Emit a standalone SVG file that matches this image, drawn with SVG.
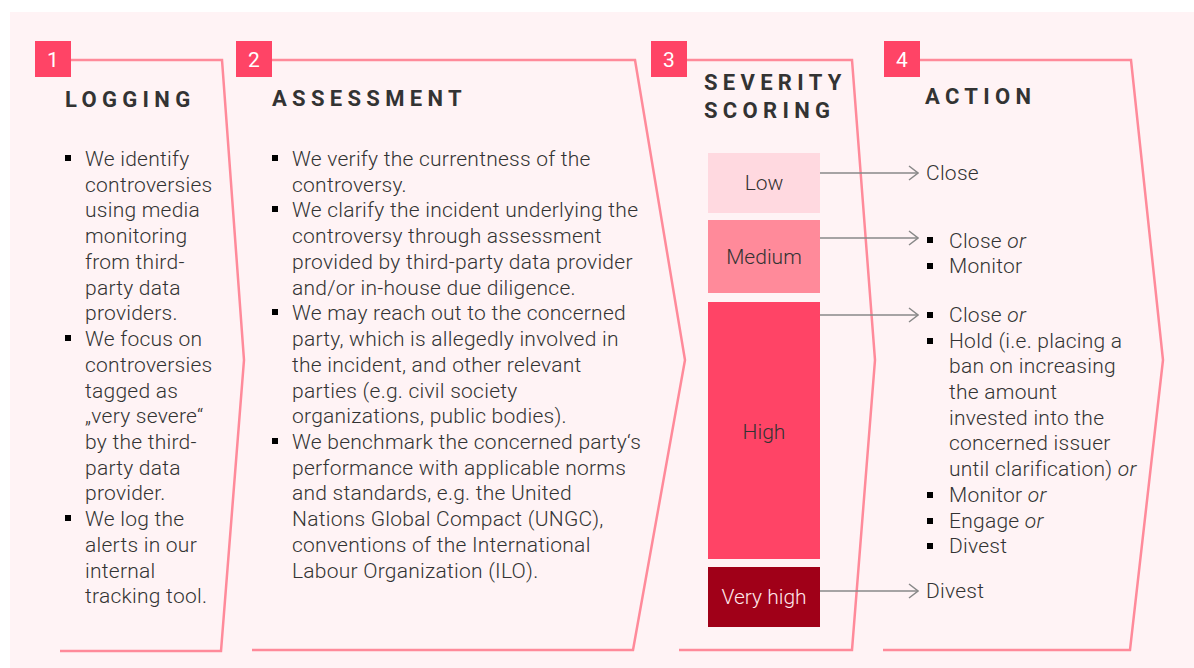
<svg xmlns="http://www.w3.org/2000/svg" width="1194" height="668" viewBox="0 0 1194 668">
<defs>
<style>
.bg{fill:#FFF3F5}
.frame{fill:none;stroke:#FF8A9A;stroke-width:2.5;stroke-linejoin:miter}
.num{fill:#FF4466}
.numt{fill:#ffffff;font-family:Roboto,"Liberation Sans",sans-serif;font-size:21px;text-anchor:middle}
.title{fill:#333333;font-family:Roboto,"Liberation Sans",sans-serif;font-size:22px;font-weight:bold;letter-spacing:5.3px}
.body{fill:#333333;font-family:Roboto,"Liberation Sans",sans-serif;font-size:21px;font-weight:300;letter-spacing:0.25px}
.bul{fill:#000000}
.lbl{font-family:Roboto,"Liberation Sans",sans-serif;font-size:21px;font-weight:300;text-anchor:middle}
.conn{fill:none;stroke:#888888;stroke-width:1.5}
</style>
<marker id="arr" markerWidth="12" markerHeight="16" refX="11" refY="8" orient="auto" markerUnits="userSpaceOnUse">
<path d="M2,1 L11,8 L2,15" fill="none" stroke="#888888" stroke-width="1.5"/>
</marker>
</defs>
<rect class="bg" x="10" y="12" width="1184" height="656"/>

<g id="step1">
<polyline class="frame" points="71,60 222,60 244,360 221,651 60,651"/>
<rect class="num" x="35" y="41" width="36" height="36"/>
<text class="numt" x="53" y="67">1</text>
<text class="title" x="65" y="107">LOGGING</text>
<g class="bul">
<rect x="65" y="155" width="6" height="6"/>
<rect x="65" y="335" width="6" height="6"/>
<rect x="65" y="515" width="6" height="6"/>
</g>
<text class="body">
<tspan x="85" y="166">We identify</tspan>
<tspan x="85" y="192">controversies</tspan>
<tspan x="85" y="217">using media</tspan>
<tspan x="85" y="243">monitoring</tspan>
<tspan x="85" y="269">from third-</tspan>
<tspan x="85" y="295">party data</tspan>
<tspan x="85" y="320">providers.</tspan>
<tspan x="85" y="346">We focus on</tspan>
<tspan x="85" y="372">controversies</tspan>
<tspan x="85" y="398">tagged as</tspan>
<tspan x="85" y="423">„very severe“</tspan>
<tspan x="85" y="449">by the third-</tspan>
<tspan x="85" y="475">party data</tspan>
<tspan x="85" y="500">provider.</tspan>
<tspan x="85" y="526">We log the</tspan>
<tspan x="85" y="552">alerts in our</tspan>
<tspan x="85" y="578">internal</tspan>
<tspan x="85" y="603">tracking tool.</tspan>
</text>
</g>

<g id="step2">
<polyline class="frame" points="272,60 635,60 685,360 633,650 252,650"/>
<rect class="num" x="236" y="41" width="36" height="36"/>
<text class="numt" x="254" y="67">2</text>
<text class="title" x="272" y="106">ASSESSMENT</text>
<g class="bul">
<rect x="272" y="155" width="6" height="6"/>
<rect x="272" y="206" width="6" height="6"/>
<rect x="272" y="309" width="6" height="6"/>
<rect x="272" y="438" width="6" height="6"/>
</g>
<text class="body">
<tspan x="292" y="166">We verify the currentness of the</tspan>
<tspan x="292" y="192">controversy.</tspan>
<tspan x="292" y="217">We clarify the incident underlying the</tspan>
<tspan x="292" y="243">controversy through assessment</tspan>
<tspan x="292" y="269">provided by third-party data provider</tspan>
<tspan x="292" y="295">and/or in-house due diligence.</tspan>
<tspan x="292" y="320">We may reach out to the concerned</tspan>
<tspan x="292" y="346">party, which is allegedly involved in</tspan>
<tspan x="292" y="372">the incident, and other relevant</tspan>
<tspan x="292" y="398">parties (e.g. civil society</tspan>
<tspan x="292" y="423">organizations, public bodies).</tspan>
<tspan x="292" y="449">We benchmark the concerned party‘s</tspan>
<tspan x="292" y="475">performance with applicable norms</tspan>
<tspan x="292" y="500">and standards, e.g. the United</tspan>
<tspan x="292" y="526">Nations Global Compact (UNGC),</tspan>
<tspan x="292" y="552">conventions of the International</tspan>
<tspan x="292" y="578">Labour Organization (ILO).</tspan>
</text>
</g>

<g id="step3">
<polyline class="frame" points="687,60 852,60 875,360 852,650 679,650"/>
<rect class="num" x="651" y="41" width="36" height="36"/>
<text class="numt" x="669" y="67">3</text>
<text class="title"><tspan x="704" y="90">SEVERITY</tspan><tspan x="704" y="118">SCORING</tspan></text>
</g>

<g id="low">
<rect x="708" y="153" width="112" height="60" fill="#FFD9E0"/>
<text class="lbl" x="764" y="190" fill="#333333">Low</text>
</g>
<g id="medium">
<rect x="708" y="220" width="112" height="73" fill="#FF8A9A"/>
<text class="lbl" x="764" y="264" fill="#333333">Medium</text>
</g>
<g id="high">
<rect x="708" y="302" width="112" height="257" fill="#FF4466"/>
<text class="lbl" x="764" y="439" fill="#333333">High</text>
</g>
<g id="veryhigh">
<rect x="708" y="567" width="112" height="60" fill="#A00018"/>
<text class="lbl" x="764" y="604" fill="#FFE6EA">Very high</text>
</g>

<g id="step4">
<polyline class="frame" points="920,60 1131,60 1163,360 1130,650 883,650"/>
<rect class="num" x="884" y="41" width="36" height="36"/>
<text class="numt" x="902" y="67">4</text>
<text class="title" x="925" y="104">ACTION</text>
</g>

<g id="actions">
<g class="bul">
<rect x="927" y="237" width="6" height="6"/>
<rect x="927" y="263" width="6" height="6"/>
<rect x="927" y="312" width="6" height="6"/>
<rect x="927" y="338" width="6" height="6"/>
<rect x="927" y="492" width="6" height="6"/>
<rect x="927" y="518" width="6" height="6"/>
<rect x="927" y="543" width="6" height="6"/>
</g>
<text class="body">
<tspan x="926" y="180">Close</tspan>
<tspan x="949" y="248">Close <tspan font-style="italic">or</tspan></tspan>
<tspan x="949" y="273">Monitor</tspan>
<tspan x="949" y="322">Close <tspan font-style="italic">or</tspan></tspan>
<tspan x="949" y="348">Hold (i.e. placing a</tspan>
<tspan x="949" y="373">ban on increasing</tspan>
<tspan x="949" y="399">the amount</tspan>
<tspan x="949" y="425">invested into the</tspan>
<tspan x="949" y="450">concerned issuer</tspan>
<tspan x="949" y="476">until clarification) <tspan font-style="italic">or</tspan></tspan>
<tspan x="949" y="502">Monitor <tspan font-style="italic">or</tspan></tspan>
<tspan x="949" y="528">Engage <tspan font-style="italic">or</tspan></tspan>
<tspan x="949" y="553">Divest</tspan>
<tspan x="926" y="598">Divest</tspan>
</text>
</g>

<g id="connectors">
<line class="conn" x1="820" y1="173" x2="918" y2="173" marker-end="url(#arr)"/>
<line class="conn" x1="820" y1="238" x2="918" y2="238" marker-end="url(#arr)"/>
<line class="conn" x1="820" y1="315" x2="918" y2="315" marker-end="url(#arr)"/>
<line class="conn" x1="820" y1="591" x2="918" y2="591" marker-end="url(#arr)"/>
</g>
</svg>
